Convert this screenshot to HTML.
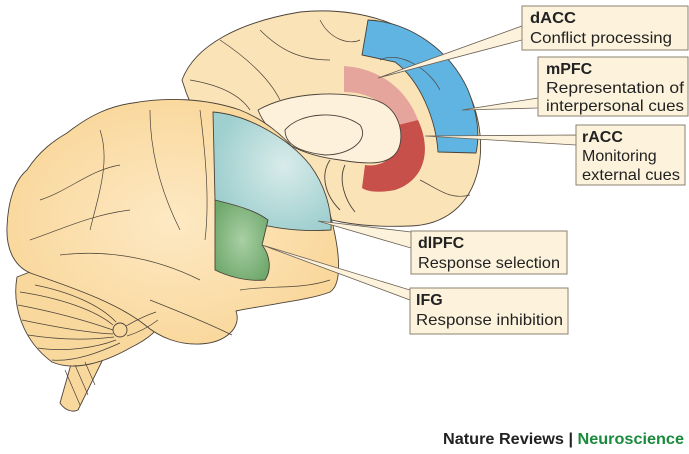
<!DOCTYPE html>
<html><head><meta charset="utf-8"><style>
html,body{margin:0;padding:0;background:#fff;width:689px;height:454px;overflow:hidden}
svg{display:block}
text{font-family:"Liberation Sans",sans-serif}
</style></head><body>
<svg width="689" height="454" viewBox="0 0 689 454" xmlns="http://www.w3.org/2000/svg">
<defs>
<radialGradient id="bg" cx="0.5" cy="0.5" r="0.6"><stop offset="0" stop-color="#fde9c4"/><stop offset="1" stop-color="#f9d596"/></radialGradient>
<radialGradient id="tg" cx="0.6" cy="0.45" r="0.6"><stop offset="0" stop-color="#d8ecea"/><stop offset="1" stop-color="#9fcfcf"/></radialGradient>
<radialGradient id="gg" cx="0.5" cy="0.5" r="0.6"><stop offset="0" stop-color="#a9cfa4"/><stop offset="1" stop-color="#6ea86b"/></radialGradient>
</defs>
<g stroke="#4a4238" stroke-width="0.9" stroke-linejoin="round">
<path d="M182,80 C195,45 240,22 300,12 C360,6 420,25 455,70 C478,100 485,140 478,170 C470,205 445,225 410,226 C360,228 320,222 280,200 C240,180 200,140 182,80 Z" fill="#fbe3b8"/>
<path d="M368,20 C410,22 450,50 468,90 C478,115 480,135 476,153 L438,152 C436,120 420,80 395,62 L362,55 Z" fill="#5fb4e2"/>
<path d="M344,66 C375,68 405,85 418,120 L398,125 C390,105 370,92 344,92 Z" fill="#e5a59c" stroke="none"/>
<path d="M418,120 C432,150 425,180 395,190 C380,193 368,192 362,188 L365,165 C385,168 400,155 398,125 Z" fill="#c8504b" stroke="none"/>
<path d="M258,110 C290,92 340,90 375,100 C400,108 405,135 398,150 C390,165 370,165 340,160 C300,155 270,140 258,110 Z" fill="#fdf1dc"/>
<path d="M285,130 C300,112 340,110 360,125 C370,140 350,155 325,155 C300,152 285,145 285,130 Z" fill="none"/>
<path d="M330,160 C320,175 325,195 340,210 M345,165 C338,180 345,200 355,212" fill="none"/>
<path d="M75,350 L60,403 C66,412 74,412 78,410 L105,355 Z" fill="#f9d89e"/>
<path d="M17,277 C12,305 22,340 52,362 C75,372 105,362 130,348 C150,338 162,328 160,318 L30,272 Z" fill="#f9d89e"/>
<path d="M133,103 C165,97 205,98 240,110 C290,130 325,180 335,235 C340,260 341,285 330,292 C310,300 270,304 236,311 C242,328 225,343 200,344 C180,345 160,338 145,325 C120,305 80,290 33,274 C15,268 6,250 7,227 C8,200 15,180 27,170 C40,150 55,140 67,133 C90,115 110,106 133,103 Z" fill="url(#bg)"/>
<circle cx="120" cy="330" r="7" fill="#f9d89e"/>
<path d="M213,112 C250,115 290,140 310,165 C325,185 332,210 331,230 C300,232 270,228 245,220 L215,200 Z" fill="url(#tg)"/>
<path d="M215,200 C235,205 255,210 268,220 L262,245 C270,255 272,270 265,280 C245,282 225,275 215,270 Z" fill="url(#gg)"/>
</g>
<g stroke="#4a4238" stroke-width="0.7" fill="none">
<path d="M40,200 C70,190 90,170 120,165 M30,240 C60,230 90,215 130,210 M60,255 C100,250 150,255 200,280 M150,110 C150,150 160,190 180,230 M200,110 C205,150 210,200 205,240 M100,130 C110,160 100,190 90,230 M150,300 C180,312 205,322 232,335 M240,290 C270,285 300,290 330,280"/>
<path d="M20,292 C60,298 95,310 113,325 M18,305 C55,312 90,322 113,330 M22,320 C60,328 90,333 113,334 M28,335 C60,340 90,340 114,337 M38,348 C65,352 95,348 116,340 M52,360 C75,362 100,352 120,343 M127,336 C140,332 150,326 158,320 M126,326 C140,318 150,314 156,312 M35,285 C70,292 100,305 116,322"/>
<path d="M65,370 L80,405 M75,365 L88,395 M85,362 L95,385"/>
<path d="M220,40 C250,60 270,80 280,100 M260,30 C280,50 300,60 330,60 M320,20 C330,40 350,45 360,40 M190,80 C220,85 240,95 250,110 M420,180 C440,190 450,200 470,195 M380,60 C400,50 430,70 440,90"/>
</g>
<g fill="#fdf3dc" stroke="#6b6155" stroke-width="0.8">
<polygon points="378,78 522,26 522,40"/>
<polygon points="462,110 538,98 538,108"/>
<polygon points="425,136 576,135 576,145"/>
<polygon points="318,221 411,232 411,248"/>
<polygon points="262,245 410,290 410,300"/>
</g>
<g fill="#fdf3dc" stroke="#8a8070" stroke-width="1">
<rect x="522" y="6" width="166" height="44"/>
<rect x="538" y="57" width="150" height="59"/>
<rect x="576" y="125" width="109" height="60"/>
<rect x="411" y="231" width="156" height="43"/>
<rect x="410" y="288" width="158" height="46"/>
</g>
<g font-size="16" fill="#222">
<text x="530" y="23" font-weight="bold" textLength="46" lengthAdjust="spacingAndGlyphs">dACC</text><text x="530" y="43" textLength="142" lengthAdjust="spacingAndGlyphs">Conflict processing</text>
<text x="546" y="74" font-weight="bold">mPFC</text><text x="546" y="93" textLength="138" lengthAdjust="spacingAndGlyphs">Representation of</text><text x="546" y="111" textLength="138" lengthAdjust="spacingAndGlyphs">interpersonal cues</text>
<text x="582" y="142" font-weight="bold">rACC</text><text x="582" y="161">Monitoring</text><text x="582" y="180" textLength="98" lengthAdjust="spacingAndGlyphs">external cues</text>
<text x="418" y="248" font-weight="bold">dlPFC</text><text x="418" y="268" textLength="142" lengthAdjust="spacingAndGlyphs">Response selection</text>
<text x="416" y="305" font-weight="bold">IFG</text><text x="416" y="325" textLength="147" lengthAdjust="spacingAndGlyphs">Response inhibition</text>
</g>
<text x="443" y="444" font-size="16" font-weight="bold" fill="#222" textLength="241" lengthAdjust="spacingAndGlyphs">Nature Reviews | <tspan fill="#1a8a3c">Neuroscience</tspan></text>
</svg>
</body></html>
